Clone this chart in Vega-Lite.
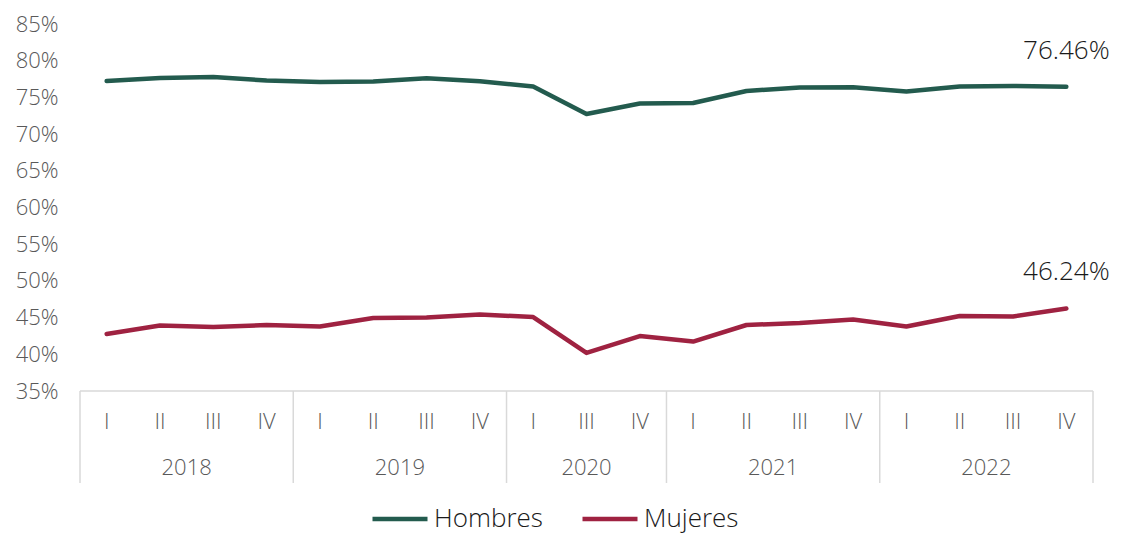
{
  "$schema": "https://vega.github.io/schema/vega-lite/v6.json",
  "background": "white",
  "padding": {"left": 15, "top": 13, "right": 5, "bottom": 5},
  "config": {"view": {"stroke": null}, "font": "Open Sans", "concat": {"spacing": 0}, "axisY": {"labelOverlap": false}},
  "spacing": 0,
  "bounds": "flush",
  "resolve": {"scale": {"x": "shared", "color": "shared"}},
  "datasets": {
    "serie": [
      {"idx": 0, "anio": "2018", "trim": "I", "sexo": "Hombres", "tasa": 0.7723},
      {"idx": 1, "anio": "2018", "trim": "II", "sexo": "Hombres", "tasa": 0.7764},
      {"idx": 2, "anio": "2018", "trim": "III", "sexo": "Hombres", "tasa": 0.7778},
      {"idx": 3, "anio": "2018", "trim": "IV", "sexo": "Hombres", "tasa": 0.7730},
      {"idx": 4, "anio": "2019", "trim": "I", "sexo": "Hombres", "tasa": 0.7710},
      {"idx": 5, "anio": "2019", "trim": "II", "sexo": "Hombres", "tasa": 0.7717},
      {"idx": 6, "anio": "2019", "trim": "III", "sexo": "Hombres", "tasa": 0.7760},
      {"idx": 7, "anio": "2019", "trim": "IV", "sexo": "Hombres", "tasa": 0.7720},
      {"idx": 8, "anio": "2020", "trim": "I", "sexo": "Hombres", "tasa": 0.7650},
      {"idx": 9, "anio": "2020", "trim": "III", "sexo": "Hombres", "tasa": 0.7274},
      {"idx": 10, "anio": "2020", "trim": "IV", "sexo": "Hombres", "tasa": 0.7417},
      {"idx": 11, "anio": "2021", "trim": "I", "sexo": "Hombres", "tasa": 0.7424},
      {"idx": 12, "anio": "2021", "trim": "II", "sexo": "Hombres", "tasa": 0.7587},
      {"idx": 13, "anio": "2021", "trim": "III", "sexo": "Hombres", "tasa": 0.7635},
      {"idx": 14, "anio": "2021", "trim": "IV", "sexo": "Hombres", "tasa": 0.7637},
      {"idx": 15, "anio": "2022", "trim": "I", "sexo": "Hombres", "tasa": 0.7580},
      {"idx": 16, "anio": "2022", "trim": "II", "sexo": "Hombres", "tasa": 0.7650},
      {"idx": 17, "anio": "2022", "trim": "III", "sexo": "Hombres", "tasa": 0.7655},
      {"idx": 18, "anio": "2022", "trim": "IV", "sexo": "Hombres", "tasa": 0.7646},
      {"idx": 0, "anio": "2018", "trim": "I", "sexo": "Mujeres", "tasa": 0.4277},
      {"idx": 1, "anio": "2018", "trim": "II", "sexo": "Mujeres", "tasa": 0.4392},
      {"idx": 2, "anio": "2018", "trim": "III", "sexo": "Mujeres", "tasa": 0.4372},
      {"idx": 3, "anio": "2018", "trim": "IV", "sexo": "Mujeres", "tasa": 0.4399},
      {"idx": 4, "anio": "2019", "trim": "I", "sexo": "Mujeres", "tasa": 0.4379},
      {"idx": 5, "anio": "2019", "trim": "II", "sexo": "Mujeres", "tasa": 0.4495},
      {"idx": 6, "anio": "2019", "trim": "III", "sexo": "Mujeres", "tasa": 0.4501},
      {"idx": 7, "anio": "2019", "trim": "IV", "sexo": "Mujeres", "tasa": 0.4542},
      {"idx": 8, "anio": "2020", "trim": "I", "sexo": "Mujeres", "tasa": 0.4508},
      {"idx": 9, "anio": "2020", "trim": "III", "sexo": "Mujeres", "tasa": 0.4018},
      {"idx": 10, "anio": "2020", "trim": "IV", "sexo": "Mujeres", "tasa": 0.4249},
      {"idx": 11, "anio": "2021", "trim": "I", "sexo": "Mujeres", "tasa": 0.4174},
      {"idx": 12, "anio": "2021", "trim": "II", "sexo": "Mujeres", "tasa": 0.4399},
      {"idx": 13, "anio": "2021", "trim": "III", "sexo": "Mujeres", "tasa": 0.4426},
      {"idx": 14, "anio": "2021", "trim": "IV", "sexo": "Mujeres", "tasa": 0.4474},
      {"idx": 15, "anio": "2022", "trim": "I", "sexo": "Mujeres", "tasa": 0.4379},
      {"idx": 16, "anio": "2022", "trim": "II", "sexo": "Mujeres", "tasa": 0.4522},
      {"idx": 17, "anio": "2022", "trim": "III", "sexo": "Mujeres", "tasa": 0.4515},
      {"idx": 18, "anio": "2022", "trim": "IV", "sexo": "Mujeres", "tasa": 0.4624}
    ],
    "limites": [
      {"pos": -0.5}, {"pos": 3.5}, {"pos": 7.5}, {"pos": 10.5}, {"pos": 14.5}, {"pos": 18.5}
    ]
  },
  "vconcat": [
    {
      "width": 1013,
      "height": 367,
      "data": {"name": "serie"},
      "encoding": {
        "x": {
          "field": "idx", "type": "quantitative",
          "scale": {"domain": [-0.5, 18.5], "nice": false, "zero": false},
          "axis": null
        },
        "y": {
          "field": "tasa", "type": "quantitative",
          "scale": {"domain": [0.35, 0.85], "nice": false, "zero": false},
          "axis": {
            "values": [0.35, 0.4, 0.45, 0.5, 0.55, 0.6, 0.65, 0.7, 0.75, 0.8, 0.85],
            "format": ".0%", "grid": false, "domain": false, "ticks": false, "labelOverlap": false, "labelBound": false,
            "labelFontSize": 22, "labelFontWeight": 300, "labelColor": "#595959", "labelPadding": 22, "title": null
          }
        }
      },
      "layer": [
        {
          "mark": {"type": "line", "strokeWidth": 4.5, "strokeJoin": "round", "strokeCap": "round"},
          "encoding": {
            "color": {
              "field": "sexo", "type": "nominal",
              "scale": {"domain": ["Hombres", "Mujeres"], "range": ["#235B4E", "#9F2241"]},
              "legend": {
                "orient": "none", "legendX": 290, "legendY": 465, "direction": "horizontal",
                "title": null, "symbolType": "stroke", "symbolSize": 3025, "symbolStrokeWidth": 4.5,
                "labelFontSize": 26, "labelFontWeight": 300, "labelColor": "#1a1a1a", "labelOffset": 4, "columnPadding": 30
              }
            }
          }
        },
        {
          "transform": [{"filter": "datum.idx == 18"}],
          "mark": {"type": "text", "align": "center", "baseline": "bottom", "dy": -23, "fontSize": 26, "fontWeight": 300, "color": "#1a1a1a"},
          "encoding": {
            "text": {"field": "tasa", "type": "quantitative", "format": ".2%"}
          }
        }
      ]
    },
    {
      "width": 1013,
      "height": 92,
      "layer": [
        {
          "data": {"name": "limites"},
          "mark": {"type": "rule", "color": "#d9d9d9", "strokeWidth": 1.5},
          "encoding": {
            "x": {"field": "pos", "type": "quantitative", "scale": {"domain": [-0.5, 18.5], "nice": false, "zero": false}, "axis": null}
          }
        },
        {
          "data": {"values": [{"borde": "superior"}]},
          "mark": {"type": "rule", "color": "#d9d9d9", "strokeWidth": 1.5},
          "encoding": {
            "y": {"datum": 0, "type": "quantitative", "scale": {"domain": [0, 4], "reverse": true, "nice": false, "zero": false}, "axis": null}
          }
        },
        {
          "data": {"name": "serie"},
          "transform": [{"filter": "datum.sexo == 'Hombres'"}],
          "mark": {"type": "text", "fontSize": 22, "fontWeight": 300, "color": "#595959", "baseline": "middle"},
          "encoding": {
            "x": {"field": "idx", "type": "quantitative", "axis": null},
            "y": {"datum": 1.35, "type": "quantitative", "axis": null},
            "text": {"field": "trim", "type": "nominal"}
          }
        },
        {
          "data": {"name": "serie"},
          "transform": [
            {"filter": "datum.sexo == 'Hombres'"},
            {"aggregate": [{"op": "mean", "field": "idx", "as": "centro"}], "groupby": ["anio"]}
          ],
          "mark": {"type": "text", "fontSize": 22, "fontWeight": 300, "color": "#595959", "baseline": "middle"},
          "encoding": {
            "x": {"field": "centro", "type": "quantitative", "axis": null},
            "y": {"datum": 3.35, "type": "quantitative", "axis": null},
            "text": {"field": "anio", "type": "nominal"}
          }
        }
      ]
    }
  ]
}
